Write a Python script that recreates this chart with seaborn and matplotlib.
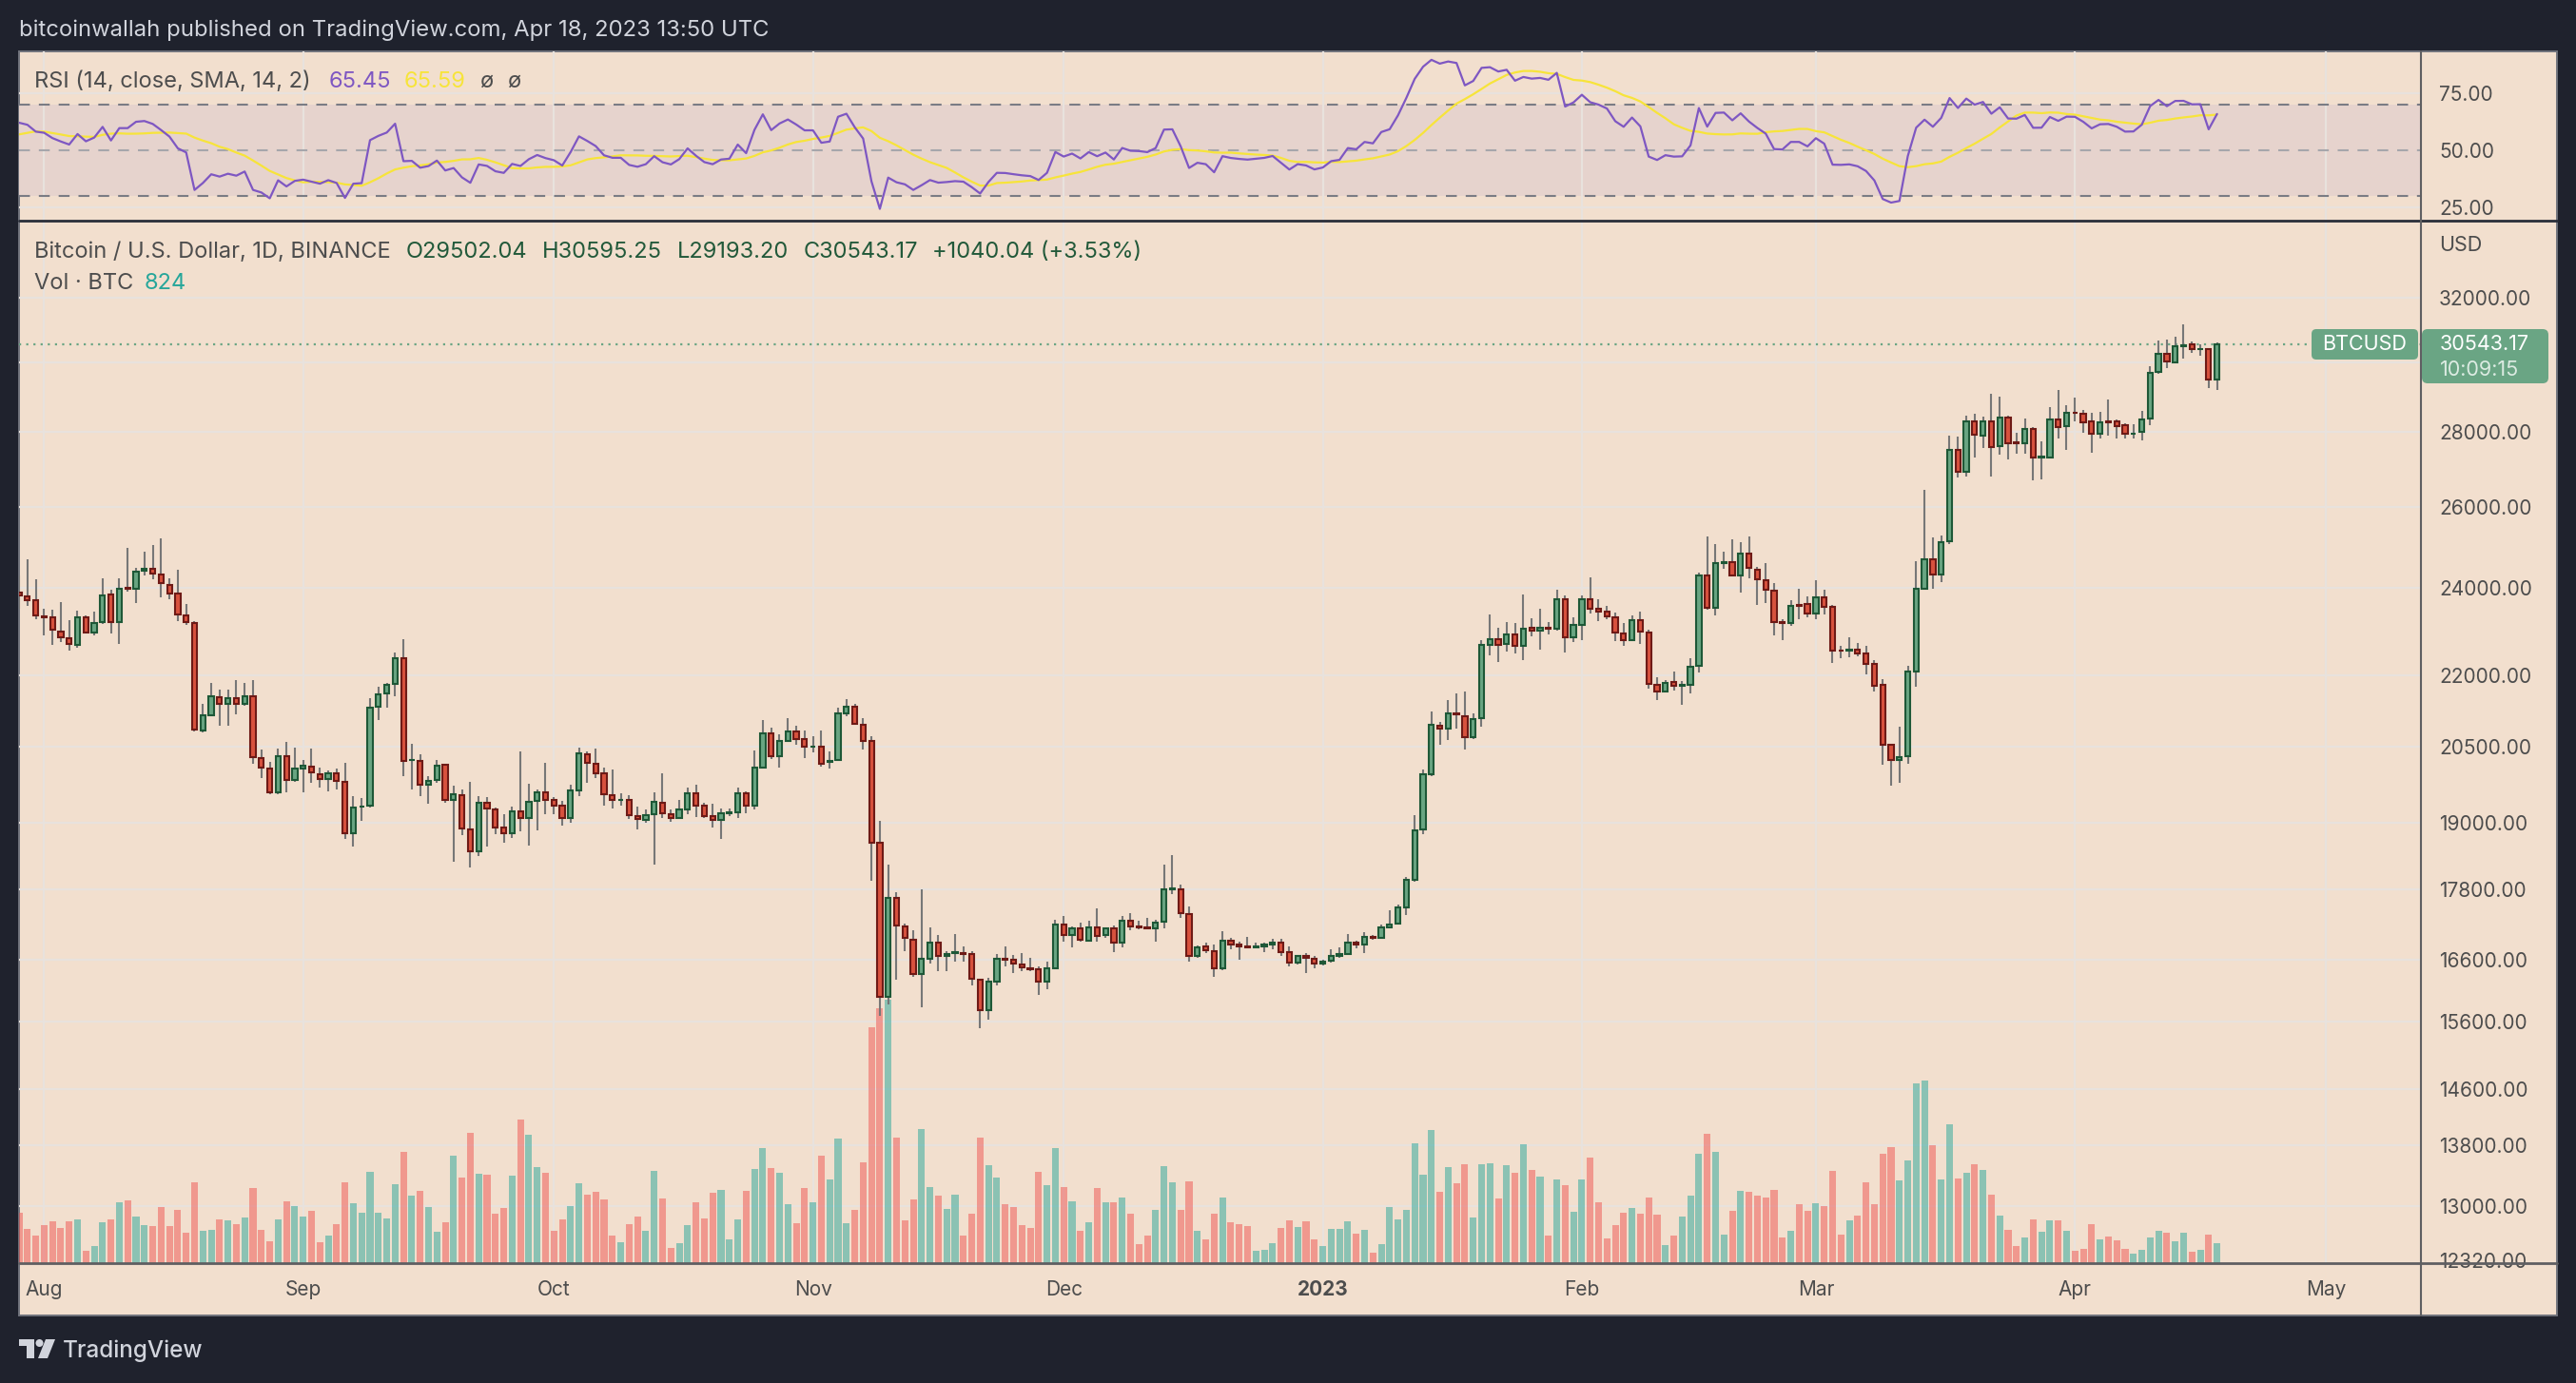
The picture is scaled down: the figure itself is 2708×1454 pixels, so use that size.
import numpy as np
import pandas as pd
import matplotlib
matplotlib.use("Agg")
import matplotlib.pyplot as plt
import matplotlib.dates as mdates
from matplotlib.patches import Rectangle, FancyBboxPatch, Polygon, Circle
from matplotlib.lines import Line2D
from matplotlib.transforms import IdentityTransform, blended_transform_factory
from matplotlib.ticker import NullLocator, NullFormatter
import seaborn as sns

# --- DATA: BTCUSD daily, Binance, 2022-07-29 .. 2023-04-18 ---
first_day = "2022-07-29"

opens = [
    23870, 23780, 23690,
    # Aug
    23320, 23300, 22980, 22830, 22680, 23300, 22960, 23190, 23830, 23190,
    24000, 23980, 24410, 24450, 24320, 24050, 23850, 23350, 23180, 20830,
    21150, 21530, 21385, 21510, 21385, 21550, 20270, 20060, 19580, 20300, 19830,
    # Sep
    20060, 20100, 19950, 19850, 19970, 19800, 18810, 19310, 19340, 21320,
    21610, 21810, 22380, 20220, 20210, 19740, 19830, 20130, 19440, 19540,
    18880, 18480, 19380, 19250, 18910, 18810, 19220, 19100, 19420, 19590,
    # Oct
    19440, 19330, 19090, 19620, 20340, 20150, 19960, 19540, 19440, 19450,
    19130, 19060, 19160, 19380, 19170, 19100, 19250, 19570, 19340, 19130,
    19060, 19180, 19200, 19570, 19340, 20080, 20760, 20310, 20610, 20800, 20650,
    # Nov
    20490, 20500, 20180, 20220, 21190, 21330, 20940, 20610, 18630, 16000,
    17640, 17150, 16930, 16360, 16610, 16880, 16660, 16700, 16710, 16680,
    16270, 15780, 16240, 16610, 16590, 16520, 16450, 16430, 16240, 16460,
    # Dec
    17190, 17000, 17110, 16910, 17140, 17000, 17110, 16870, 17250, 17150,
    17140, 17110, 17230, 17800, 17800, 17360, 16650, 16810, 16740, 16460,
    16910, 16840, 16820, 16800, 16820, 16840, 16880, 16720, 16550, 16650, 16610,
    # Jan
    16530, 16570, 16660, 16680, 16870, 16840, 16980, 16960, 17140, 17200,
    17470, 17960, 18880, 19950, 20930, 20860, 21190, 21130, 20690, 21080,
    22680, 22790, 22690, 22910, 22640, 23070, 23000, 23070, 23030, 23720, 22840,
    # Feb
    23130, 23720, 23500, 23430, 23310, 22940, 22780, 23240, 22960, 21800,
    21640, 21850, 21780, 21790, 22200, 24290, 23520, 24590, 24620, 24290,
    24830, 24430, 24180, 23930, 23200, 23180, 23590, 23600,
    # Mar
    23380, 23770, 23550, 22550, 22540, 22560, 22470, 22250, 21790, 20530,
    20230, 20300, 22090, 23980, 24690, 24300, 25120, 27510, 26920, 28290,
    27900, 28300, 27620, 28410, 27710, 27680, 28090, 27300, 27310, 28350, 28170,
    # Apr
    28540, 28520, 28300, 27950, 28290, 28300, 28180, 27950, 28000, 28380,
    29720, 30270, 30000, 30500, 30540, 30390, 30390, 29502.04,
]

highs = [
    24280, 24670, 24190,
    23510, 23480, 23650, 23230, 23460, 23350, 23430, 24230, 23950, 24230,
    24960, 24480, 24870, 25030, 25200, 24230, 24420, 23610, 23210, 21385,
    21830, 21680, 21680, 21900, 21830, 21900, 20430, 20180, 20450, 20590, 20480,
    20220, 20450, 20080, 20020, 20050, 20170, 19520, 19470, 21500, 21760,
    21830, 22500, 22800, 20550, 20340, 19910, 20220, 20150, 19710, 19650,
    19790, 19520, 19500, 19300, 19170, 19310, 20390, 19760, 19650, 20170,
    19490, 19420, 19730, 20470, 20390, 20450, 20080, 20040, 19570, 19540,
    19310, 19250, 19590, 19960, 19250, 19440, 19680, 19730, 19380, 19360,
    19270, 19270, 19690, 19600, 20410, 21050, 20890, 20750, 21080, 20930, 20830,
    20700, 20830, 20400, 21310, 21490, 21390, 21080, 20710, 19040, 18230,
    17740, 17200, 17080, 17800, 17130, 17010, 16740, 17020, 16810, 16740,
    16290, 16300, 16680, 16810, 16670, 16700, 16620, 16490, 16560, 17260,
    17330, 17150, 17210, 17240, 17460, 17130, 17170, 17330, 17380, 17240,
    17290, 17270, 18240, 18410, 17870, 17500, 16830, 16870, 16850, 17070,
    16950, 16890, 16970, 16870, 16870, 16940, 16940, 16810, 16670, 16700, 16650,
    16590, 16760, 16790, 17020, 16910, 17050, 17010, 17180, 17430, 17530,
    18020, 19150, 20040, 21220, 21010, 21460, 21600, 21640, 21190, 22770,
    23360, 23070, 23190, 23160, 23830, 23270, 23490, 23190, 23950, 23810, 23290,
    23810, 24240, 23720, 23570, 23400, 23170, 23340, 23430, 23010, 21950,
    21890, 22090, 21880, 22370, 24350, 25240, 25050, 24870, 25170, 25100,
    25240, 24490, 24580, 24110, 23250, 23710, 23980, 23790,
    24170, 23950, 23590, 22640, 22840, 22710, 22640, 22330, 21920, 20540,
    20900, 22210, 24630, 26430, 25220, 25270, 27900, 27870, 28470, 28500,
    28440, 29090, 29010, 28450, 27990, 28380, 28140, 27740, 28700, 29180, 28750,
    28960, 28620, 28540, 28560, 28930, 28340, 28250, 28220, 28600, 29880,
    30650, 30680, 30770, 31150, 30640, 30540, 30420, 30595.25,
]

lows = [
    23500, 23560, 23260,
    22880, 22670, 22740, 22540, 22600, 22920, 22880, 23150, 22940, 22700,
    23910, 23630, 24290, 24200, 23770, 23720, 23210, 23130, 20800, 20780,
    21120, 20930, 20920, 21170, 21350, 20150, 19860, 19560, 19550, 19580, 19800,
    19590, 19780, 19690, 19610, 19650, 18700, 18560, 19040, 19300, 21050,
    21300, 21550, 19910, 19640, 19520, 19360, 19780, 19390, 18280, 18770,
    18190, 18390, 18560, 18800, 18630, 18720, 18840, 18580, 18870, 19160,
    19170, 18960, 19010, 19520, 19770, 19860, 19340, 19280, 19340, 19070,
    18890, 19000, 18230, 19090, 19020, 19080, 19170, 19120, 19100, 18920,
    18700, 19130, 19100, 19190, 19250, 20050, 20240, 20070, 20600, 20530, 20260,
    20380, 20090, 20060, 20200, 21130, 20940, 20430, 17940, 15700, 15870,
    16260, 16740, 16310, 15830, 16530, 16400, 16410, 16560, 16560, 16180,
    15500, 15630, 16180, 16490, 16370, 16400, 16410, 16020, 16120, 16440,
    16900, 16800, 16900, 16900, 16900, 16950, 16720, 16790, 17090, 17100,
    17100, 16900, 17110, 17710, 17300, 16560, 16620, 16700, 16320, 16420,
    16760, 16600, 16790, 16790, 16720, 16760, 16650, 16480, 16510, 16370, 16460,
    16500, 16540, 16620, 16670, 16780, 16710, 16930, 16940, 17120, 17190,
    17340, 17920, 18800, 19910, 20540, 20640, 20870, 20430, 20660, 20900,
    22440, 22290, 22530, 22480, 22330, 22870, 22570, 22900, 22990, 22510, 22740,
    22780, 23390, 23220, 23260, 22760, 22650, 22760, 22700, 21700, 21470,
    21620, 21660, 21370, 21600, 22060, 23480, 23350, 24460, 24260, 23870,
    24220, 23590, 23640, 22890, 22780, 23110, 23260, 23300,
    23260, 23370, 22260, 22370, 22400, 22410, 22020, 21640, 20140, 19720,
    19780, 20160, 21750, 23950, 23970, 24130, 25050, 26770, 26800, 27300,
    27560, 26800, 27390, 27260, 27400, 27400, 26680, 26710, 27290, 27810, 27500,
    28310, 27970, 27430, 27810, 27900, 27810, 27810, 27830, 27780, 28200,
    29650, 29830, 29980, 30120, 30280, 30200, 29250, 29193.20,
]

closes = [
    23820, 23710, 23350,
    23290, 23020, 22850, 22700, 23300, 22960, 23170, 23810, 23190, 23970,
    23970, 24390, 24440, 24330, 24100, 23850, 23370, 23190, 20840, 21150,
    21550, 21385, 21510, 21385, 21550, 20290, 20080, 19580, 20300, 19830, 20060,
    20110, 19980, 19850, 19970, 19810, 18810, 19300, 19320, 21310, 21580,
    21790, 22380, 20210, 20230, 19730, 19820, 20110, 19440, 19560, 18900,
    18480, 19380, 19280, 18920, 18810, 19220, 19100, 19400, 19590, 19440,
    19340, 19090, 19620, 20360, 20170, 19960, 19560, 19450, 19450, 19150,
    19070, 19150, 19400, 19180, 19100, 19250, 19570, 19340, 19130, 19060,
    19180, 19200, 19570, 19340, 20080, 20760, 20310, 20610, 20800, 20660, 20500,
    20500, 20160, 20200, 21180, 21330, 20960, 20620, 18640, 15990, 17640,
    17160, 16950, 16360, 16610, 16880, 16650, 16680, 16720, 16680, 16280,
    15780, 16230, 16610, 16600, 16530, 16470, 16430, 16230, 16450, 17190,
    17000, 17110, 16920, 17140, 16990, 17110, 16870, 17240, 17150, 17140,
    17110, 17220, 17800, 17810, 17370, 16650, 16800, 16750, 16460, 16910,
    16850, 16820, 16800, 16820, 16840, 16880, 16720, 16550, 16650, 16620, 16530,
    16560, 16660, 16680, 16870, 16850, 16970, 16950, 17140, 17190, 17470,
    17960, 18870, 19940, 20940, 20860, 21190, 21160, 20690, 21070, 22680,
    22790, 22680, 22910, 22640, 23040, 23000, 23070, 23030, 23720, 22840, 23130,
    23720, 23500, 23430, 23320, 22950, 22780, 23240, 22970, 21810, 21650,
    21840, 21780, 21790, 22190, 24290, 23520, 24590, 24620, 24290, 24830,
    24480, 24200, 23950, 23200, 23180, 23570, 23570, 23380,
    23770, 23550, 22550, 22540, 22560, 22470, 22250, 21770, 20530, 20230,
    20280, 22080, 23980, 24690, 24300, 25100, 27510, 26920, 28290, 27920,
    28300, 27590, 28410, 27700, 27690, 28090, 27310, 27320, 28350, 28130, 28540,
    28530, 28280, 27950, 28260, 28280, 28160, 27950, 27960, 28350, 29700,
    30270, 30030, 30500, 30510, 30390, 30400, 29502.04, 30543.17,
]

# volume bar heights (relative units)
volumes = [
    158, 107, 86,
    119, 131, 110, 131, 137, 38, 53, 128, 137, 191, 197, 146, 119, 116, 176, 116,
    167, 95, 254, 101, 104, 137, 134, 122, 143, 236, 104, 68, 137, 194, 179,
    146, 164, 65, 86, 122, 254, 188, 158, 287, 158, 140, 248, 350, 212, 227,
    176, 98, 128, 338, 269, 410, 281, 278, 155, 173, 275, 452, 404, 302, 284,
    101, 137, 179, 251, 215, 224, 200, 86, 65, 122, 146, 101, 290, 203, 47,
    62, 119, 191, 140, 221, 230, 74, 137, 227, 296, 362, 299, 284, 185, 125, 236,
    191, 338, 263, 392, 125, 167, 317, 743, 804, 830, 395, 134, 200, 422, 239,
    212, 170, 215, 86, 155, 395, 308, 269, 185, 176, 119, 110, 287, 245, 362,
    239, 194, 101, 128, 236, 191, 191, 206, 155, 59, 86, 167, 305, 254, 167,
    257, 101, 74, 155, 206, 128, 122, 116, 38, 41, 62, 110, 134, 113, 131, 74,
    53, 107, 107, 131, 92, 104, 32, 59, 176, 137, 167, 377, 278, 419, 224,
    302, 251, 311, 143, 311, 314, 203, 308, 284, 374, 293, 272, 86, 263, 245, 161,
    263, 332, 191, 77, 119, 158, 173, 155, 206, 152, 56, 86, 146, 212, 344,
    407, 350, 89, 164, 227, 224, 212, 206, 230, 80, 101, 185, 164,
    188, 179, 290, 89, 134, 149, 254, 185, 344, 365, 260, 323, 566, 575, 371,
    263, 437, 266, 284, 311, 293, 215, 149, 104, 53, 80, 137, 98, 134, 134, 101,
    38, 44, 122, 74, 83, 71, 44, 29, 41, 80, 101, 95, 68, 95, 35, 41, 89, 62,
]

# closes before the visible window (2022-06-13 .. 2022-07-28), only to warm up the RSI
warmup_closes = [
    22485, 22136, 22583, 20401, 20468, 18970, 20574, 20573, 20723, 19987,
    21110, 21237, 21491, 21038, 20743, 20281, 20123, 19942,
    19279, 19252, 19315, 20236, 20175, 20564, 21624, 21594, 21592, 20862,
    19963, 19329, 20212, 20569, 20836, 21190, 20780, 22486, 23389, 23231,
    23164, 22714, 22465, 22609, 21361, 21239, 22930, 23843,
]

price_ticks = [32000, 28000, 26000, 24000, 22000, 20500, 19000, 17800,
               16600, 15600, 14600, 13800, 13000, 12320]
price_grid = [32000, 30000, 28000, 26000, 24000, 22000, 20500, 19000, 17800,
              16600, 15600, 14600, 13800, 13000]
month_starts = ["2022-08-01", "2022-09-01", "2022-10-01", "2022-11-01", "2022-12-01",
                "2023-01-01", "2023-02-01", "2023-03-01", "2023-04-01", "2023-05-01"]
month_labels = ["Aug", "Sep", "Oct", "Nov", "Dec", "2023", "Feb", "Mar", "Apr", "May"]

# --- STYLE ---
W, H = 2708, 1454
DARK = "#1f222d"
BG = "#f2dfce"
GRID = "#e8e2dd"
BAND = "#e6d3cd"
TXT = "#4d4d4d"
GREEN_TXT = "#22593a"
UP_FILL, UP_EDGE = "#69a582", "#1e5837"
DN_FILL, DN_EDGE = "#d8523e", "#6e1a16"
WICK = "#777777"
VOL_UP = (38 / 255, 166 / 255, 154 / 255, 0.5)
VOL_DN = (239 / 255, 83 / 255, 80 / 255, 0.5)
PRICE_GREEN = "#6aa584"
LEG = 17  # legend font size

sns.set_theme(style="white")
plt.rcParams["font.family"] = ["Inter", "DejaVu Sans"]

o = np.array(opens, float)
h = np.array(highs, float)
l = np.array(lows, float)
c = np.array(closes, float)
v = np.array(volumes, float)

dates = pd.date_range(first_day, periods=len(c), freq="D")
x = mdates.date2num(dates)
up = c >= o
month_x = mdates.date2num(pd.to_datetime(month_starts))

# RSI(14) with Wilder smoothing, SMA(14) of it
allc = np.array(warmup_closes + closes, float)
d = np.diff(allc)
gain = np.clip(d, 0, None)
loss = np.clip(-d, 0, None)
n = 14
ag = np.full(len(d), np.nan)
al = np.full(len(d), np.nan)
ag[n - 1] = gain[:n].mean()
al[n - 1] = loss[:n].mean()
for i in range(n, len(d)):
    ag[i] = (ag[i - 1] * (n - 1) + gain[i]) / n
    al[i] = (al[i - 1] * (n - 1) + loss[i]) / n
rsi_all = 100 - 100 / (1 + ag / al)
sma_all = pd.Series(rsi_all).rolling(14).mean().values
rsi_df = pd.DataFrame({"x": x, "rsi": rsi_all[-len(c):], "sma": sma_all[-len(c):]})

# --- FIGURE ---
fig = plt.figure(figsize=(W / 100, H / 100), dpi=100, facecolor=DARK)
L, R = 20, 2545
rsi_top, rsi_bot, main_bot = 54, 232, 1328

fig.add_artist(Rectangle((20, H - 1383), 2668, 1383 - 54, transform=IdentityTransform(),
                         facecolor=BG, edgecolor="#70737c", lw=1.4, zorder=-5))

ax_v = fig.add_axes([L / W, 1 - main_bot / H, (R - L) / W, (main_bot - rsi_bot) / H])
ax = fig.add_axes([L / W, 1 - main_bot / H, (R - L) / W, (main_bot - rsi_bot) / H], sharex=ax_v)
ax_r = fig.add_axes([L / W, 1 - rsi_bot / H, (R - L) / W, (rsi_bot - rsi_top) / H], sharex=ax_v)
ax.set_zorder(ax_v.get_zorder() + 1)
for a in (ax_v, ax, ax_r):
    a.set_facecolor("none")
    for s in a.spines.values():
        s.set_visible(False)

# grid (below volume)
tr = blended_transform_factory(ax_v.transAxes, ax.transData)
for p in price_grid:
    ax_v.plot([0, 1], [p, p], transform=tr, color=GRID, lw=1.6, zorder=0.5)
for m in month_x:
    ax_v.axvline(m, color=GRID, lw=1.6, zorder=0.5)
    ax_r.axvline(m, color=GRID, lw=1.6, zorder=0.5)

# volume
ax_v.bar(x, v, width=0.8, color=[VOL_UP if u else VOL_DN for u in up], linewidth=0, zorder=1)
ax_v.set_ylim(0, 3288)
ax_v.set_yticks([])
ax_v.xaxis.set_visible(False)

# candles
ax.axhline(c[-1], color=PRICE_GREEN, lw=1.6, ls=(0, (1, 2.4)), zorder=1.5)
ax.vlines(x, l, h, colors=WICK, lw=1.5, zorder=2)
ax.bar(x, np.abs(c - o), bottom=np.minimum(o, c), width=0.6,
       color=[UP_FILL if u else DN_FILL for u in up],
       edgecolor=[UP_EDGE if u else DN_EDGE for u in up], linewidth=1.5, zorder=3)
ax.set_yscale("log")
ax.yaxis.tick_right()
ax.set_yticks(price_ticks)
ax.set_yticklabels([f"{p:.2f}" for p in price_ticks])
ax.yaxis.set_minor_locator(NullLocator())
ax.yaxis.set_minor_formatter(NullFormatter())
ax.tick_params(axis="y", length=0, pad=13.7, labelsize=15, labelcolor=TXT)
ax.set_ylim(12282, 34527)
ax.set_xticks(month_x)
ax.set_xticklabels(month_labels)
ax.tick_params(axis="x", bottom=True, labelbottom=True, length=0, pad=13,
               labelsize=15, labelcolor=TXT)
ax.get_xticklabels()[5].set_fontweight("bold")
ax.set_xlabel("")
ax.set_ylabel("")

# RSI panel
ax_r.axhspan(30, 70, color=BAND, lw=0, zorder=0.3)
for lev in (75, 25):
    ax_r.axhline(lev, color=GRID, lw=1.6, zorder=0.5)
ax_r.axhline(70, color="#7a7c84", lw=1.5, ls=(0, (5.5, 4.5)), zorder=1)
ax_r.axhline(30, color="#7a7c84", lw=1.5, ls=(0, (5.5, 4.5)), zorder=1)
ax_r.axhline(50, color="#a6a6ab", lw=1.5, ls=(0, (5.5, 4.5)), zorder=1)
sns.lineplot(data=rsi_df, x="x", y="sma", ax=ax_r, color="#f7e43a", linewidth=1.6,
             estimator=None, legend=False, zorder=3)
sns.lineplot(data=rsi_df, x="x", y="rsi", ax=ax_r, color="#7e57c2", linewidth=1.6,
             estimator=None, legend=False, zorder=4)
ax_r.set_xlabel("")
ax_r.set_ylabel("")
ax_r.set_ylim(19.42, 92.98)
ax_r.yaxis.tick_right()
ax_r.set_yticks([75, 50, 25])
ax_r.set_yticklabels(["75.00", "50.00", "25.00"])
ax_r.tick_params(axis="y", length=0, pad=13.7, labelsize=15, labelcolor=TXT)
ax_r.xaxis.set_visible(False)

ax_v.set_xlim(x[0], x[0] + 287.4)

# separators
I = IdentityTransform()
fig.add_artist(Line2D([20, 2688], [H - 232, H - 232], transform=I, color="#2a2e39", lw=2.0, zorder=10))
fig.add_artist(Line2D([2545, 2545], [H - 54, H - 1383], transform=I, color="#5f5f62", lw=1.5, zorder=10))
fig.add_artist(Line2D([20, 2688], [H - 1328, H - 1328], transform=I, color="#5f5f62", lw=2.0, zorder=10))

# texts
def put(xp, yp, s, **kw):
    fig.text(xp, H - yp, s, transform=I, va="center", ha="left", **kw)

put(20, 32, "bitcoinwallah published on TradingView.com, Apr 18, 2023 13:50 UTC",
    color="#d1d4dc", fontsize=17.2)
put(36, 86, "RSI (14, close, SMA, 14, 2)", color=TXT, fontsize=LEG)
put(346, 86, "65.45", color="#7e57c2", fontsize=LEG)
put(425, 86, "65.59", color="#f7e43a", fontsize=LEG)
put(505, 86, "ø", color=TXT, fontsize=LEG)
put(534, 86, "ø", color=TXT, fontsize=LEG)
put(36, 265, "Bitcoin / U.S. Dollar, 1D, BINANCE", color=TXT, fontsize=LEG)
put(427, 265, "O29502.04", color=GREEN_TXT, fontsize=LEG)
put(570, 265, "H30595.25", color=GREEN_TXT, fontsize=LEG)
put(712, 265, "L29193.20", color=GREEN_TXT, fontsize=LEG)
put(845, 265, "C30543.17", color=GREEN_TXT, fontsize=LEG)
put(980, 265, "+1040.04 (+3.53%)", color=GREEN_TXT, fontsize=LEG)
put(36, 298, "Vol · BTC", color=TXT, fontsize=LEG)
put(152, 298, "824", color="#26a69a", fontsize=LEG)
put(2564, 258, "USD", color=TXT, fontsize=15.5)

# last price labels
fig.add_artist(FancyBboxPatch((2546, H - 403), 133, 57, boxstyle="round,pad=0,rounding_size=6",
                              transform=I, facecolor=PRICE_GREEN, edgecolor="none", zorder=11))
fig.add_artist(FancyBboxPatch((2430, H - 378), 112, 32, boxstyle="round,pad=0,rounding_size=5",
                              transform=I, facecolor=PRICE_GREEN, edgecolor="none", zorder=11))
fig.text(2486, H - 362, "BTCUSD", transform=I, ha="center", va="center", color="white",
         fontsize=15.5, zorder=12)
fig.text(2565, H - 362, "30543.17", transform=I, ha="left", va="center", color="white",
         fontsize=15.5, zorder=12)
fig.text(2565, H - 389, "10:09:15", transform=I, ha="left", va="center", color="#dcebe2",
         fontsize=15.5, zorder=12)

# TradingView logo
LOGO = "#d1d4dc"
fig.add_artist(Polygon([(20, H - 1408), (36, H - 1408), (36, H - 1428), (28, H - 1428),
                        (28, H - 1415), (20, H - 1415)], closed=True, transform=I,
                       facecolor=LOGO, edgecolor="none"))
fig.add_artist(Circle((41.5, H - 1412), 4, transform=I, facecolor=LOGO, edgecolor="none"))
fig.add_artist(Polygon([(48, H - 1408), (58, H - 1408), (50, H - 1428), (40, H - 1428)],
                       closed=True, transform=I, facecolor=LOGO, edgecolor="none"))
fig.text(66, H - 1420, "TradingView", transform=I, ha="left", va="center", color=LOGO,
         fontsize=17.5, fontweight="medium")

fig.savefig("out.png", dpi=100, facecolor=DARK)
